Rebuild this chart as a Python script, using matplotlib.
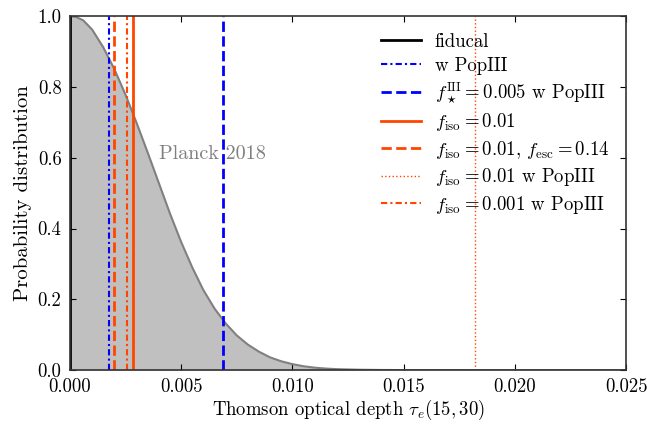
import numpy as np
import matplotlib
matplotlib.use('Agg')
import matplotlib.pyplot as plt

plt.rcParams['font.family'] = 'serif'
plt.rcParams['font.serif'] = ['cmr10']
plt.rcParams['mathtext.fontset'] = 'cm'
plt.rcParams['axes.formatter.use_mathtext'] = True

#%% data
tau = [0.0, 0.0003, 0.0006, 0.0010, 0.0015, 0.0020, 0.0025, 0.0030, 0.0035,
       0.0040, 0.0045, 0.0050, 0.0055, 0.0060, 0.0065, 0.0070, 0.0075,
       0.0080, 0.0085, 0.0090, 0.0095, 0.0100, 0.0105, 0.0110, 0.0115,
       0.0120, 0.0130, 0.0140, 0.0150, 0.0250]
prob = [1.000, 0.997, 0.988, 0.962, 0.912, 0.850, 0.778, 0.698, 0.614,
        0.528, 0.442, 0.362, 0.290, 0.226, 0.174, 0.132, 0.098,
        0.072, 0.052, 0.036, 0.025, 0.017, 0.011, 0.007, 0.0045,
        0.0028, 0.0012, 0.0005, 0.0002, 0.0]

labels = ['fiducal', 'w PopIII', r'$f_\star^{\rm III}=0.005$ w PopIII',
          r'$f_{\rm iso}=0.01$', r'$f_{\rm iso}=0.01$, $f_{\rm esc}=0.14$',
          r'$f_{\rm iso}=0.01$ w PopIII', r'$f_{\rm iso}=0.001$ w PopIII']
tau_models = [0.0, 0.00176, 0.00686, 0.00285, 0.00200, 0.01820, 0.00255]
colors = ['black', 'blue', 'blue', 'orangered', 'orangered', 'orangered', 'orangered']
styles = ['-', (0, (3, 1.5, 1, 1.5)), '--', '-', '--', ':', (0, (3, 1.5, 1, 1.5))]
widths = [2, 1.5, 2, 2, 2, 1, 1.5]

#%%
fig = plt.figure(figsize=(6.47, 4.24), dpi=100)
ax = fig.add_axes([0.108, 0.127, 0.860, 0.835])

ax.fill_between(tau, 0, prob, color='silver', lw=0)
ax.plot(tau, prob, color='gray', lw=1.5)
ax.text(0.0040, 0.61, 'Planck 2018', color='gray', fontsize=14.5, va='center')

for t, lab, c, ls, lw in zip(tau_models, labels, colors, styles, widths):
    ax.axvline(t, color=c, ls=ls, lw=lw, label=lab)

ax.set_xlim(0, 0.025)
ax.set_ylim(0, 1.0)
ax.set_xticks([0, 0.005, 0.01, 0.015, 0.02, 0.025])
ax.set_xticklabels(['0.000', '0.005', '0.010', '0.015', '0.020', '0.025'])
ax.set_yticks([0, 0.2, 0.4, 0.6, 0.8, 1.0])
ax.set_yticklabels(['0.0', '0.2', '0.4', '0.6', '0.8', '1.0'])
ax.tick_params(direction='in', top=True, right=True, labelsize=13.5, length=4, pad=6)
for s in ax.spines.values():
    s.set_color('0.2')
    s.set_linewidth(1.2)

ax.set_xlabel(r'Thomson optical depth $\tau_e(15,30)$', fontsize=13.5, labelpad=1)
ax.set_ylabel('Probability distribution', fontsize=15)
ax.legend(loc='upper right', frameon=False, fontsize=13.5, labelspacing=0.3,
          handlelength=2.1, handletextpad=0.75, bbox_to_anchor=(1.0, 1.0))

fig.savefig('out.png', dpi=100)
